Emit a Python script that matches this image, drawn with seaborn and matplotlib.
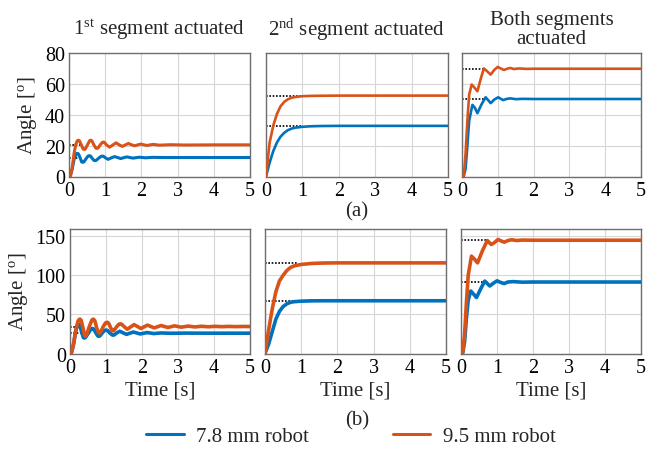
import matplotlib
matplotlib.use("Agg")
import matplotlib.pyplot as plt
import pandas as pd
import seaborn as sns

# ---------------- data ----------------
# Row (a), 1st segment actuated
t_a1_o = [0, 0.04, 0.09, 0.14, 0.19, 0.23, 0.26, 0.29, 0.34, 0.39, 0.42, 0.45, 0.51, 0.57, 0.6, 0.63,
          0.68, 0.74, 0.77, 0.8, 0.86, 0.92, 0.95, 0.98, 1.03, 1.12,
          1.21, 1.3, 1.38, 1.47, 1.55, 1.64, 1.72, 1.81, 1.98, 2.15, 2.32, 2.5, 2.8, 3.2, 4, 5]
v_a1_o = [0, 0.5, 6, 15, 21, 23.2, 23.5, 23.1, 20.5, 17.8, 17.5, 17.8, 20.5, 23.2, 23.5, 23.2,
          20.8, 18.4, 18.2, 18.4, 20.4, 22.1, 22.3, 22.1, 20.6, 19,
          20.4, 21.8, 20.6, 19.5, 20.4, 21.4, 20.6, 19.9, 21.0, 20.1, 20.8, 20.3, 20.6, 20.4, 20.5, 20.5]
t_a1_b = [0, 0.04, 0.09, 0.14, 0.2, 0.23, 0.26, 0.31, 0.35, 0.38, 0.41, 0.47, 0.53, 0.56, 0.59,
          0.64, 0.69, 0.72, 0.75, 0.82, 0.89, 0.92, 0.95, 1.0, 1.08,
          1.17, 1.26, 1.34, 1.43, 1.51, 1.6, 1.68, 1.77, 1.94, 2.11, 2.3, 2.6, 3, 5]
v_a1_b = [0, 0.5, 5, 11, 14.7, 15, 14.7, 12, 9.4, 9.2, 9.4, 11.5, 13.3, 13.5, 13.3,
          11.8, 10.4, 10.3, 10.4, 11.9, 13.1, 13.2, 13.1, 12.2, 11.1,
          12.1, 12.9, 12.3, 11.6, 12.2, 12.7, 12.3, 11.9, 12.5, 12.1, 12.4, 12.3, 12.3, 12.3]
# Row (a), 2nd segment actuated
t_a2 = [0, 0.1, 0.2, 0.3, 0.4, 0.5, 0.6, 0.7, 0.8, 1.0, 1.2, 1.5, 2, 5]
v_a2_o = [0, 22, 33, 40.5, 45.5, 48.3, 50, 51, 51.5, 52, 52.2, 52.3, 52.4, 52.4]
v_a2_b = [0, 9, 16.5, 22, 25.8, 28.3, 30, 31, 31.6, 32.2, 32.5, 32.7, 32.8, 32.8]
# Row (a), both segments actuated
t_a3_o = [0, 0.05, 0.1, 0.15, 0.2, 0.27, 0.35, 0.43, 0.52, 0.61, 0.7, 0.8, 0.9, 1.0, 1.08, 1.17,
          1.26, 1.35, 1.45, 1.6, 1.8, 2.0, 5]
v_a3_o = [0, 0.5, 15, 36, 53, 59.6, 57.5, 55.2, 63, 70, 68.2, 66, 69, 71, 70, 69,
          69.8, 70.3, 69.6, 70, 69.7, 69.8, 69.8]
t_a3_b = [0, 0.05, 0.1, 0.15, 0.2, 0.29, 0.36, 0.43, 0.54, 0.66, 0.73, 0.8, 0.9, 1.01, 1.08, 1.15,
          1.25, 1.35, 1.5, 1.7, 2.0, 5]
v_a3_b = [0, 0.2, 5, 20, 36, 46.4, 44.5, 41, 46.5, 51.3, 49.5, 47.5, 49.8, 51.3, 50.4, 49.5,
          50.3, 50.6, 50.1, 50.3, 50.2, 50.2]

# Row (b), 1st segment actuated
t_b1_o = [0, 0.05, 0.1, 0.17, 0.22, 0.25, 0.28, 0.31, 0.36, 0.4, 0.43, 0.46, 0.54, 0.61, 0.65, 0.69,
          0.74, 0.79, 0.82, 0.85, 0.93, 0.99, 1.03, 1.07, 1.13, 1.17, 1.2, 1.23, 1.3, 1.36, 1.4, 1.44,
          1.5, 1.59, 1.78, 1.97, 2.15, 2.34, 2.53, 2.72, 2.9, 3.09, 3.28, 3.47, 3.65, 3.84,
          4.03, 4.22, 4.4, 4.59, 4.78, 5.0]
v_b1_o = [0, 2, 13, 32, 41, 43.5, 44, 42.5, 33, 24, 22, 24, 35, 43, 44, 42,
          33, 27, 26, 27.5, 35, 39.3, 40, 39, 33, 29.5, 29, 30, 34.5, 37.5, 38, 37.3,
          34.5, 31, 37, 32, 36.3, 32.8, 35.8, 33.3, 35.4, 33.7, 35.1, 34, 34.9, 34.2,
          34.8, 34.3, 34.7, 34.4, 34.6, 34.5]
t_b1_b = [0, 0.05, 0.1, 0.16, 0.21, 0.24, 0.27, 0.32, 0.37, 0.4, 0.43, 0.51, 0.58, 0.62, 0.66,
          0.71, 0.77, 0.8, 0.83, 0.9, 0.96, 1.0, 1.04, 1.1, 1.17, 1.2, 1.23, 1.29,
          1.38, 1.57, 1.76, 1.95, 2.14, 2.33, 2.52, 2.8, 3.2, 4, 5]
v_b1_b = [0, 2, 12, 29, 36.5, 37.5, 36.5, 28, 20.5, 19.7, 20.5, 26, 31.3, 32, 31.3,
          27, 22.5, 22, 22.5, 26.5, 29.6, 30, 29.6, 26.5, 23.8, 23.5, 23.8, 26,
          28.5, 24.5, 27.5, 25, 26.8, 25.5, 26.3, 25.9, 26.1, 26, 26]
# Row (b), 2nd segment actuated
t_b2 = [0, 0.1, 0.2, 0.3, 0.4, 0.5, 0.6, 0.7, 0.8, 1.0, 1.3, 1.6, 2, 5]
v_b2_o = [0, 30, 57, 79, 93, 100, 106, 110, 112, 114, 115.3, 115.8, 116, 116]
v_b2_b = [0, 12, 28, 44, 54, 60, 63.5, 65.5, 66.3, 67, 67.4, 67.5, 67.5, 67.5]
# Row (b), both segments actuated
t_b3_o = [0, 0.05, 0.1, 0.15, 0.2, 0.29, 0.37, 0.46, 0.6, 0.73, 0.84, 0.93, 1.03, 1.12, 1.2, 1.3,
          1.4, 1.55, 1.7, 2.0, 5]
v_b3_o = [0, 2, 25, 65, 100, 124.6, 121, 116, 132, 144.6, 139.5, 142, 146, 144, 142.5, 144.5,
          145.6, 144.6, 145.2, 145, 145]
t_b3_b = [0, 0.05, 0.1, 0.15, 0.2, 0.27, 0.35, 0.43, 0.55, 0.66, 0.73, 0.8, 0.9, 1.0, 1.1, 1.2,
          1.3, 1.45, 1.7, 2.0, 5]
v_b3_b = [0, 1, 15, 45, 68, 80, 76, 71.6, 83, 92.7, 89.5, 86.4, 90, 93, 91, 89.5,
          91.5, 92, 91.3, 91.5, 91.5]

# reference (target) values and how far the dotted reference line is drawn
ref_a = [(12.3, 20.5), (32.8, 52.4), (50.2, 69.8)]
ref_b = [(26, 34.5), (67.5, 116), (91.5, 145)]
ref_end_a = [0.3, 0.95, 0.65]
ref_end_b = [0.3, 0.9, 0.75]

col_titles = ["1$^{\\mathrm{st}}$ segment actuated", "2$^{\\mathrm{nd}}$ segment actuated",
              "Both segments\nactuated"]
series_names = ["7.8 mm robot", "9.5 mm robot"]
x_ticks = [0, 1, 2, 3, 4, 5]
y_ticks_a = [0, 20, 40, 60, 80]
y_ticks_b = [0, 50, 100, 150]

BLUE = "#0072BD"
ORANGE = "#D95319"

# ---------------- style ----------------
sns.set_theme(style="white")
plt.rcParams['font.family'] = ['Liberation Serif', 'DejaVu Serif']
plt.rcParams['mathtext.fontset'] = 'custom'
plt.rcParams['mathtext.rm'] = 'Liberation Serif'
plt.rcParams['mathtext.it'] = 'Liberation Serif:italic'

W, H = 649, 452
fig = plt.figure(figsize=(W / 100, H / 100), dpi=100)

def px_axes(left, top, right, bottom):
    return fig.add_axes([left / W, 1 - bottom / H, (right - left) / W, (bottom - top) / H])

rows = [
    dict(boxes=[(69, 54, 250, 177.5), (266, 54, 448, 177.5), (462, 54, 641, 177.5)],
         series=[((t_a1_b, v_a1_b), (t_a1_o, v_a1_o)),
                 ((t_a2, v_a2_b), (t_a2, v_a2_o)),
                 ((t_a3_b, v_a3_b), (t_a3_o, v_a3_o))],
         refs=ref_a, ends=ref_end_a, ylim=(0, 80), yticks=y_ticks_a, lw=1.9),
    dict(boxes=[(70, 229.5, 250, 354.5), (265, 229.5, 446, 354.5), (461, 229.5, 641, 354.5)],
         series=[((t_b1_b, v_b1_b), (t_b1_o, v_b1_o)),
                 ((t_b2, v_b2_b), (t_b2, v_b2_o)),
                 ((t_b3_b, v_b3_b), (t_b3_o, v_b3_o))],
         refs=ref_b, ends=ref_end_b, ylim=(0, 160), yticks=y_ticks_b, lw=2.6),
]

handles = None
for r, row in enumerate(rows):
    for c in range(3):
        ax = px_axes(*row["boxes"][c])
        # reference lines
        for val in row["refs"][c]:
            ax.hlines(val, 0, row["ends"][c], colors="black", linestyles=(0, (1, 1)),
                      linewidth=1.2, zorder=1.5)
        for (tt, vv), col, name in zip(row["series"][c], [BLUE, ORANGE], series_names):
            df = pd.DataFrame({"Time": tt, "Angle": vv})
            sns.lineplot(data=df, x="Time", y="Angle", ax=ax, color=col, lw=row["lw"],
                         label=name, zorder=3)
        if handles is None:
            handles, labels = ax.get_legend_handles_labels()
        ax.get_legend().remove()
        ax.set_xlim(0, 5)
        ax.set_ylim(*row["ylim"])
        ax.set_xticks(x_ticks)
        ax.set_yticks(row["yticks"])
        ax.grid(True, color="#d6d6d6", lw=0.8)
        ax.set_axisbelow(True)
        for s in ax.spines.values():
            s.set_color("#6e6e6e")
            s.set_linewidth(1.0)
        ax.tick_params(direction="in", length=3, color="#6e6e6e", labelsize=14.5,
                       pad=3, labelcolor="black")
        if c == 0:
            ax.set_ylabel("Angle [$^{\\mathrm{o}}$]", fontsize=15, labelpad=4)
        else:
            ax.set_ylabel("")
            ax.set_yticklabels([])
        if r == 1:
            ax.set_xlabel("Time [s]", fontsize=15, labelpad=3)
        else:
            ax.set_xlabel("")
        if r == 0:
            l, t, rr, b = row["boxes"][c]
            fig.text(((l + rr) / 2) / W, 1 - 30 / H, col_titles[c], ha="center", va="center",
                     fontsize=15, linespacing=1.05)

fig.text(357 / W, 1 - 212 / H, "(a)", ha="center", va="center", fontsize=15)
fig.text(357 / W, 1 - 421 / H, "(b)", ha="center", va="center", fontsize=15)

for h in handles:
    h.set_linewidth(2.2)
fig.legend(handles, series_names, loc="center", bbox_to_anchor=(351 / W, 1 - 437 / H),
           ncol=2, frameon=False, fontsize=15, handlelength=1.8, handletextpad=0.6,
           columnspacing=4.0, borderaxespad=0, borderpad=0)

fig.savefig("out.png", dpi=100)
